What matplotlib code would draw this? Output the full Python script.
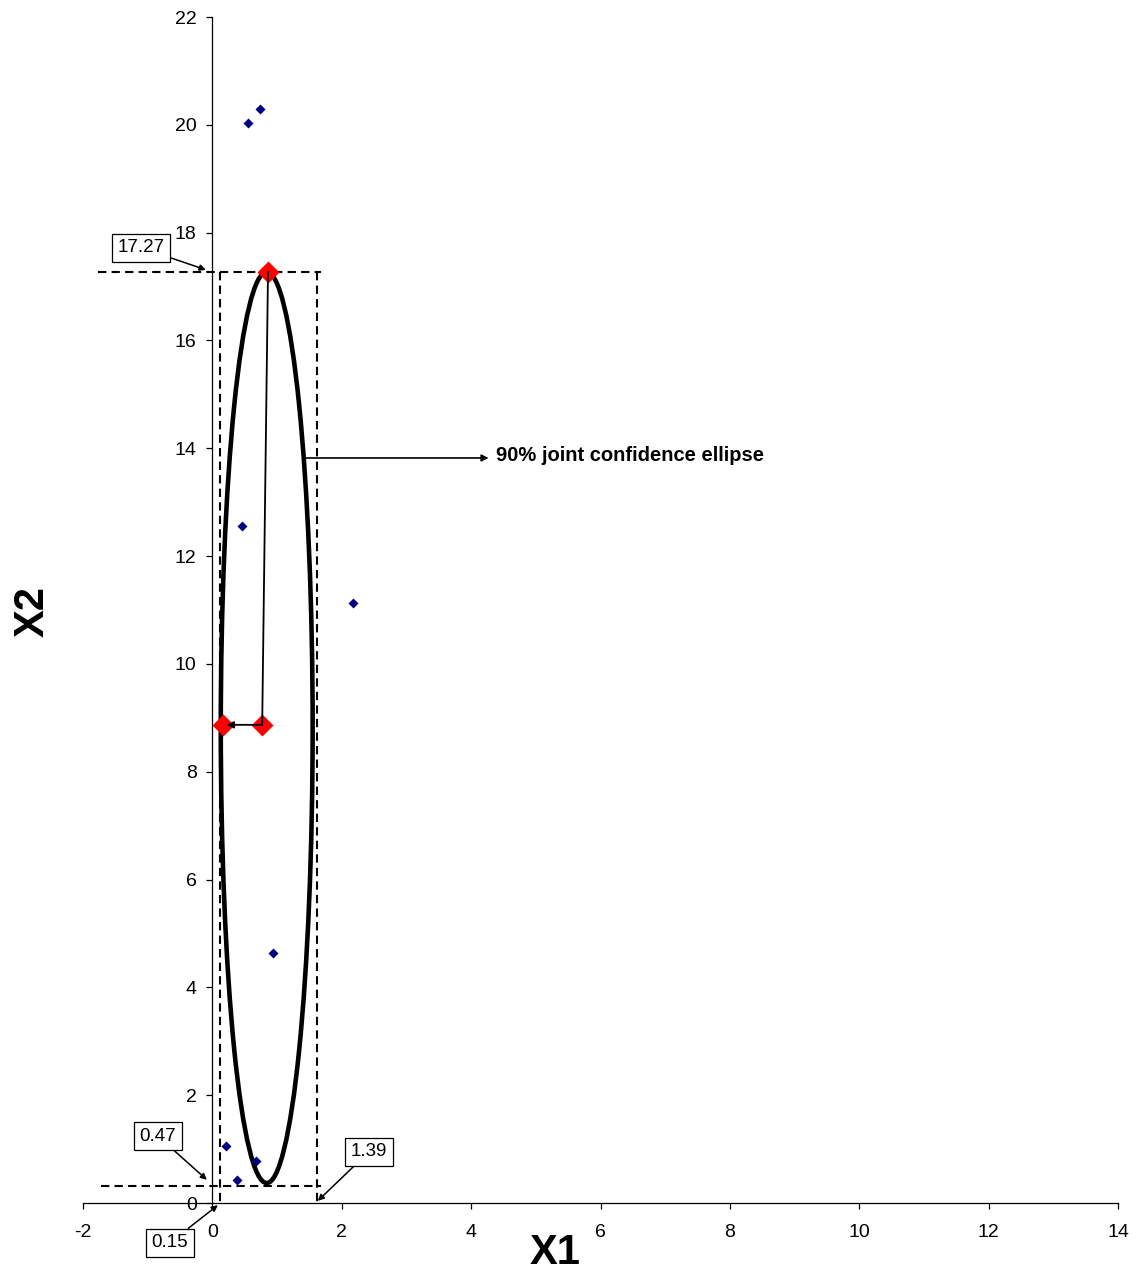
import matplotlib
matplotlib.use("Agg")
import matplotlib.pyplot as plt
from matplotlib.patches import Ellipse

plt.rcParams['font.family'] = ['Liberation Sans', 'DejaVu Sans']
plt.rcParams['axes.unicode_minus'] = False

# data points (blue diamonds)
x_pts = [0.55, 0.73, 0.46, 2.17, 0.94, 0.21, 0.67, 0.38]
y_pts = [20.04, 20.30, 12.56, 11.13, 4.64, 1.06, 0.77, 0.43]

# highlighted points (red diamonds)
x_red = [0.86, 0.16, 0.77]
y_red = [17.27, 8.87, 8.87]

# ellipse parameters
ell_center = (0.84, 8.82)
ell_width = 1.42
ell_height = 16.90

# bounding box (dashed) values
box_left, box_right = 0.12, 1.61
box_bottom, box_top = 0.32, 17.27

# labels
lbl_top, lbl_bottom, lbl_left, lbl_right = "17.27", "0.47", "0.15", "1.39"

xticks = [-2, 0, 2, 4, 6, 8, 10, 12, 14]
yticks = [0, 2, 4, 6, 8, 10, 12, 14, 16, 18, 20, 22]

fig = plt.figure(figsize=(11.44, 12.77), dpi=100)
ax = fig.add_axes([83/1144, 1-1203/1277, (1118-83)/1144, (1203-17)/1277])
ax.set_xlim(-2, 14)
ax.set_ylim(0, 22)

ax.spines['left'].set_position(('data', 0))
ax.spines['bottom'].set_position(('data', 0))
ax.spines['top'].set_visible(False)
ax.spines['right'].set_visible(False)
for s in ('left', 'bottom'):
    ax.spines[s].set_linewidth(0.9)
ax.set_xticks(xticks)
ax.set_yticks(yticks)
ax.tick_params(axis='both', direction='out', length=4.3, width=0.9, labelsize=14, colors='black')
ax.tick_params(axis='x', pad=11)
ax.tick_params(axis='y', pad=7)

# dashed bounding lines
dash = (0, (4, 2.5))
ax.plot([-1.77, 1.68], [box_top, box_top], color='black', lw=1.5, ls=dash, clip_on=False)
ax.plot([-1.72, 1.68], [box_bottom, box_bottom], color='black', lw=1.5, ls=dash, clip_on=False)
ax.plot([box_left, box_left], [box_top, -0.04], color='black', lw=1.5, ls=dash, clip_on=False)
ax.plot([box_right, box_right], [box_top, 0.0], color='black', lw=1.5, ls=dash, clip_on=False)

# ellipse
ax.add_patch(Ellipse(ell_center, ell_width, ell_height, fill=False, edgecolor='black', lw=3.3, zorder=3))

# points
ax.plot(x_pts, y_pts, ls='none', marker='D', ms=5.2, color='#000080', mec='none', zorder=4)
ax.plot(x_red, y_red, ls='none', marker='D', ms=11, color='#FF0000', mec='none', zorder=4)

# connector lines
ax.plot([x_red[0], x_red[2]], [y_red[0], y_red[2]], color='black', lw=1.3, zorder=5)
ax.annotate('', xy=(0.22, y_red[1]), xytext=(x_red[2], y_red[2]),
            arrowprops=dict(arrowstyle='-|>', color='black', lw=1.3, mutation_scale=10,
                            shrinkA=0, shrinkB=0), zorder=5)

# boxed annotations
bbox = dict(boxstyle='square,pad=0.3', fc='white', ec='black', lw=0.9)
ap = dict(arrowstyle='-|>', color='black', lw=1.1, mutation_scale=9, shrinkA=0, shrinkB=0)
ax.annotate(lbl_top, xy=(-0.10, 17.31), xytext=(-1.105, 17.72), fontsize=13.5,
            ha='center', va='center', bbox=bbox, arrowprops=ap, annotation_clip=False)
ax.annotate(lbl_bottom, xy=(-0.085, 0.43), xytext=(-0.84, 1.24), fontsize=13.5,
            ha='center', va='center', bbox=bbox, arrowprops=ap, annotation_clip=False)
ax.annotate(lbl_left, xy=(0.085, -0.04), xytext=(-0.66, -0.74), fontsize=13.5,
            ha='center', va='center', bbox=bbox, arrowprops=ap, annotation_clip=False)
ax.annotate(lbl_right, xy=(1.63, 0.04), xytext=(2.42, 0.95), fontsize=13.5,
            ha='center', va='center', bbox=bbox, arrowprops=ap, annotation_clip=False)

# ellipse label
ax.annotate('', xy=(4.27, 13.82), xytext=(1.445, 13.82),
            arrowprops=dict(arrowstyle='-|>', color='black', lw=1.2, mutation_scale=10,
                            shrinkA=0, shrinkB=0))
ax.text(4.38, 13.86, '90% joint confidence ellipse', fontsize=14.5, fontweight='bold',
        ha='left', va='center')

# axis titles
fig.text(555/1144, 1-1253/1277, 'X1', fontsize=30, fontweight='bold', ha='center', va='center')
fig.text(33/1144, 1-612/1277, 'X2', fontsize=30, fontweight='bold', ha='center', va='center',
         rotation=90)

fig.savefig('out.png', dpi=100)
